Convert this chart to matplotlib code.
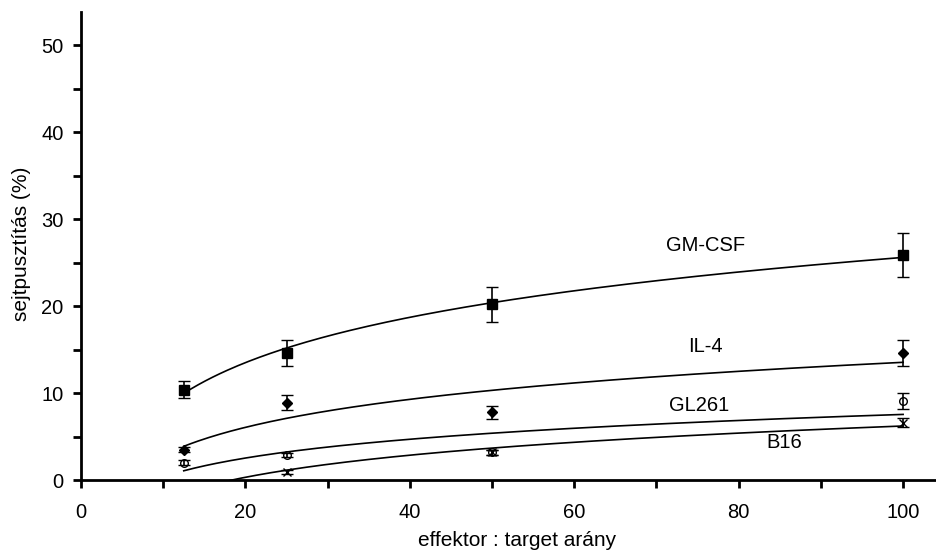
import numpy as np
import matplotlib.pyplot as plt
from matplotlib.ticker import MultipleLocator

plt.rcParams['font.family'] = ['Liberation Sans', 'DejaVu Sans']

ratio = [12.5, 25, 50, 100]

gmcsf = [10.4, 14.6, 20.2, 25.9]
gmcsf_err = [1.0, 1.5, 2.0, 2.55]
il4 = [3.5, 8.9, 7.8, 14.6]
il4_err = [0.3, 0.9, 0.75, 1.45]
gl261 = [2.0, 2.9, 3.2, 9.1]
gl261_err = [0.25, 0.25, 0.3, 0.9]
b16 = [-1.1, 0.9, 3.2, 6.6]
b16_err = [0.3, 0.25, 0.3, 0.55]

series = [
    ('GM-CSF', gmcsf, gmcsf_err, 's', 'k', (76, 27.0)),
    ('IL-4', il4, il4_err, 'D', 'k', (75.9, 15.4)),
    ('GL261', gl261, gl261_err, 'o', 'none', (75.2, 8.55)),
    ('B16', b16, b16_err, 'x', 'k', (85.6, 4.35)),
]

fig = plt.figure(figsize=(9.37, 5.5), dpi=100)
ax = fig.add_axes([81 / 937, 70 / 550, 855 / 937, 468 / 550])

x = np.array(ratio)
xs = np.linspace(12.5, 100, 200)
for name, y, err, mk, fc, lab in series:
    size = 6.5 if mk == 's' else 5.5
    ax.errorbar(x, y, yerr=err, fmt=mk, color='k', mfc=fc, mec='k',
                ms=size, mew=1.0, capsize=4, elinewidth=1.2, capthick=1.2)
    # logarithmic trendline
    a, b = np.polyfit(np.log(x), y, 1)
    ax.plot(xs, a * np.log(xs) + b, color='k', lw=1.2)
    ax.text(lab[0], lab[1], name, ha='center', va='center', fontsize=14.5)

ax.set_xlim(0, 104)
ax.set_ylim(0, 53.8)
ax.xaxis.set_major_locator(MultipleLocator(20))
ax.xaxis.set_minor_locator(MultipleLocator(10))
ax.yaxis.set_major_locator(MultipleLocator(10))
ax.yaxis.set_minor_locator(MultipleLocator(5))
ax.spines['top'].set_visible(False)
ax.spines['right'].set_visible(False)
for s in ['left', 'bottom']:
    ax.spines[s].set_linewidth(2)
ax.tick_params(which='both', direction='out', length=5.5, width=2, labelsize=14.5)
ax.tick_params(axis='x', pad=11)
ax.tick_params(axis='y', pad=7)

fig.text(517 / 937, 4 / 550, 'effektor : target arány', fontsize=15,
         ha='center', va='baseline')
fig.text(22 / 937, 1 - 244 / 550, 'sejtpusztítás (%)', fontsize=15,
         ha='center', va='center', rotation=90)

fig.savefig('out.png', dpi=100)
